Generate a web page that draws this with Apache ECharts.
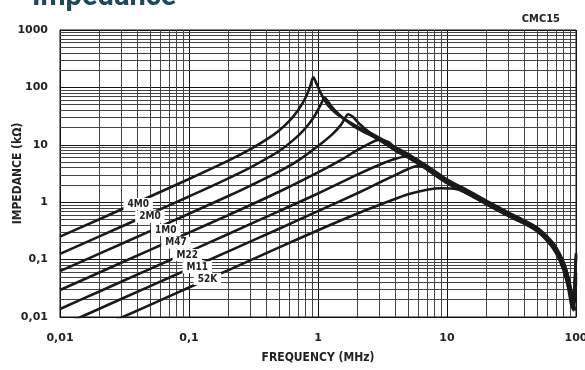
<!DOCTYPE html>
<html>
<head>
<meta charset="utf-8">
<script src="https://cdn.jsdelivr.net/npm/echarts@6/dist/echarts.min.js"></script>
<style>
  html, body { margin: 0; padding: 0; background: #fff; }
  #chart { width: 585px; height: 370px; }
</style>
</head>
<body>
<div id="chart"></div>
<script>
// Impedance curves [frequency MHz, impedance kOhm]
const curve4M0 = [[0.01,0.251],[0.02,0.50],[0.05,1.26],[0.1,2.54],[0.2,5.25],[0.3,8.4],[0.4,12.4],[0.5,17.8],[0.6,26],[0.7,40],[0.8,66],[0.87,105],[0.92,150],[0.96,125],[1.02,92],[1.1,65],[1.2,48],[1.35,37],[1.5,31],[2,21],[2.5,16.5],[3,13.2],[4,9],[5,6.9],[7,4.3],[10,2.5],[15,1.54],[20,1.08],[30,0.66],[40,0.48],[50,0.36],[60,0.25],[70,0.165],[80,0.09],[87,0.05],[92,0.028],[95,0.02],[98,0.05],[100,0.11]];
const curve2M0 = [[0.01,0.126],[0.02,0.251],[0.05,0.63],[0.1,1.26],[0.2,2.58],[0.3,4.05],[0.5,7.8],[0.7,14.3],[0.85,23],[0.95,33],[1.05,50],[1.13,66],[1.2,56],[1.3,44],[1.45,34],[1.6,28],[2,19.5],[2.5,15],[3,12],[4,8.2],[5,6.3],[7,3.9],[10,2.25],[15,1.4],[20,0.98],[30,0.6],[40,0.44],[50,0.33],[60,0.22],[70,0.14],[80,0.075],[87,0.04],[92,0.02],[95,0.015],[98,0.025],[100,0.06]];
const curve1M0 = [[0.01,0.063],[0.02,0.126],[0.05,0.314],[0.1,0.63],[0.2,1.27],[0.3,1.95],[0.5,3.44],[0.7,5.3],[1,9.5],[1.3,15.5],[1.5,22],[1.62,29],[1.71,34],[1.85,31],[2.1,23],[2.5,16.5],[3,12.5],[4,7.8],[5,6.0],[7,3.7],[10,2.15],[15,1.33],[20,0.93],[30,0.57],[40,0.42],[50,0.31],[60,0.21],[70,0.13],[80,0.065],[87,0.032],[92,0.016],[96,0.013],[100,0.13]];
const curveM47 = [[0.01,0.0295],[0.02,0.059],[0.05,0.148],[0.1,0.295],[0.2,0.59],[0.5,1.52],[1,3.3],[1.5,5.4],[2,8.0],[2.5,10.5],[3,12.3],[3.5,11.2],[4,8.6],[5,6.5],[7,4.0],[10,2.3],[15,1.43],[20,1.0],[30,0.61],[40,0.45],[50,0.34],[60,0.24],[70,0.16],[80,0.09],[87,0.05],[92,0.028],[96,0.018],[100,0.04]];
const curveM22 = [[0.01,0.0138],[0.02,0.0276],[0.05,0.069],[0.1,0.138],[0.2,0.277],[0.5,0.70],[1,1.42],[2,3.0],[3,4.5],[4,5.7],[5,6.3],[6,5.1],[7,3.8],[10,2.2],[15,1.37],[20,0.96],[30,0.59],[40,0.43],[50,0.32],[60,0.22],[70,0.145],[80,0.08],[87,0.045],[92,0.022],[95,0.016],[98,0.02],[100,0.05]];
const curveM11 = [[0.01,0.0069],[0.02,0.0138],[0.05,0.0345],[0.1,0.069],[0.2,0.138],[0.5,0.345],[1,0.70],[2,1.42],[3,2.2],[4,3.0],[5,3.8],[6,4.3],[7,4.0],[10,2.3],[15,1.42],[20,0.99],[30,0.6],[40,0.44],[50,0.33],[60,0.23],[70,0.15],[80,0.085],[87,0.045],[92,0.025],[96,0.016],[100,0.013]];
const curve52K = [[0.01,0.00327],[0.02,0.0065],[0.05,0.0163],[0.1,0.0327],[0.2,0.065],[0.5,0.163],[1,0.325],[2,0.63],[3,0.9],[4,1.15],[5,1.38],[7,1.65],[9,1.75],[12,1.68],[15,1.42],[20,0.97],[30,0.59],[40,0.43],[50,0.32],[60,0.22],[70,0.14],[80,0.075],[87,0.038],[92,0.02],[95,0.015],[98,0.04],[100,0.12]];

const curveNames = ['4M0', '2M0', '1M0', 'M47', 'M22', 'M11', '52K'];
const curves = [curve4M0, curve2M0, curve1M0, curveM47, curveM22, curveM11, curve52K];
// where each name tag sits on its curve
const labelFreq = [0.0404, 0.0498, 0.066, 0.0792, 0.097, 0.116, 0.139];
const labelImp = [0.93, 0.558, 0.328, 0.197, 0.12, 0.0735, 0.0459];

const xTickLabels = ['0,01', '0,1', '1', '10', '100'];
const yTickLabels = ['0,01', '0,1', '1', '10', '100', '1000'];

const textColor = '#222';
const tickFont = 'DejaVu Sans';
const nameFont = 'DejaVu Sans Condensed';

// minor log grid lines (2..9 in every decade)
const minorLines = [];
[0.01, 0.1, 1, 10].forEach(d => {
  for (let k = 2; k <= 9; k++) minorLines.push({ xAxis: d * k });
});
[0.01, 0.1, 1, 10, 100].forEach(d => {
  for (let k = 2; k <= 9; k++) minorLines.push({ yAxis: d * k });
});

const series = [{
  name: 'grid',
  type: 'line',
  data: [],
  silent: true,
  markLine: {
    silent: true,
    symbol: 'none',
    animation: false,
    z: 1,
    label: { show: false },
    lineStyle: { color: '#444', width: 1, type: 'solid' },
    data: minorLines
  }
}];

curves.forEach((c, i) => {
  series.push({
    name: curveNames[i],
    type: 'line',
    data: c,
    showSymbol: false,
    smooth: 0.3,
    lineStyle: { color: '#1a1a1a', width: 2.6 },
    z: 3,
    markPoint: {
      symbol: 'rect',
      symbolSize: 0,
      animation: false,
      z: 20,
      label: {
        show: true,
        formatter: curveNames[i],
        color: textColor,
        fontFamily: nameFont,
        fontWeight: 'bold',
        fontSize: 10,
        backgroundColor: '#fff',
        padding: [1, 4]
      },
      data: [{ coord: [labelFreq[i], labelImp[i]] }]
    }
  });
});

const chart = echarts.init(document.getElementById('chart'));
chart.setOption({
  animation: false,
  title: [{
    text: 'Impedance',
    left: 27,
    top: -22,
    textStyle: { fontSize: 29, fontWeight: 'bold', color: '#1c4a5a', fontFamily: 'Roboto' }
  }, {
    text: 'CMC15',
    right: 20,
    top: 9,
    textStyle: { fontSize: 11, fontWeight: 'bold', color: textColor, fontFamily: nameFont }
  }],
  grid: {
    left: 60, right: 9, top: 30, bottom: 53,
    outerBoundsMode: 'none',
    containLabel: false,
    show: true, borderColor: '#111', borderWidth: 1
  },
  xAxis: {
    type: 'log',
    logBase: 10,
    min: 0.01,
    max: 100,
    name: 'FREQUENCY (MHz)',
    nameLocation: 'middle',
    nameGap: 35,
    nameMoveOverlap: false,
    nameTextStyle: { fontSize: 12, fontWeight: 'bold', color: textColor, fontFamily: nameFont },
    axisLine: { lineStyle: { color: '#111' } },
    axisTick: { show: false },
    axisLabel: {
      margin: 16,
      fontSize: 11, fontWeight: 'bold', color: textColor, fontFamily: tickFont,
      formatter: v => xTickLabels[Math.round(Math.log10(v)) + 2]
    },
    splitLine: { show: true, lineStyle: { color: '#111', width: 1 } }
  },
  yAxis: {
    type: 'log',
    logBase: 10,
    min: 0.01,
    max: 1000,
    name: 'IMPEDANCE (kΩ)',
    nameLocation: 'middle',
    nameGap: 36,
    nameMoveOverlap: false,
    nameTextStyle: { fontSize: 12, fontWeight: 'bold', color: textColor, fontFamily: nameFont },
    axisLine: { lineStyle: { color: '#111' } },
    axisTick: { show: false },
    axisLabel: {
      margin: 12,
      fontSize: 11, fontWeight: 'bold', color: textColor, fontFamily: tickFont,
      formatter: v => yTickLabels[Math.round(Math.log10(v)) + 2]
    },
    splitLine: { show: true, lineStyle: { color: '#111', width: 1 } }
  },
  series: series
});
</script>
</body>
</html>
